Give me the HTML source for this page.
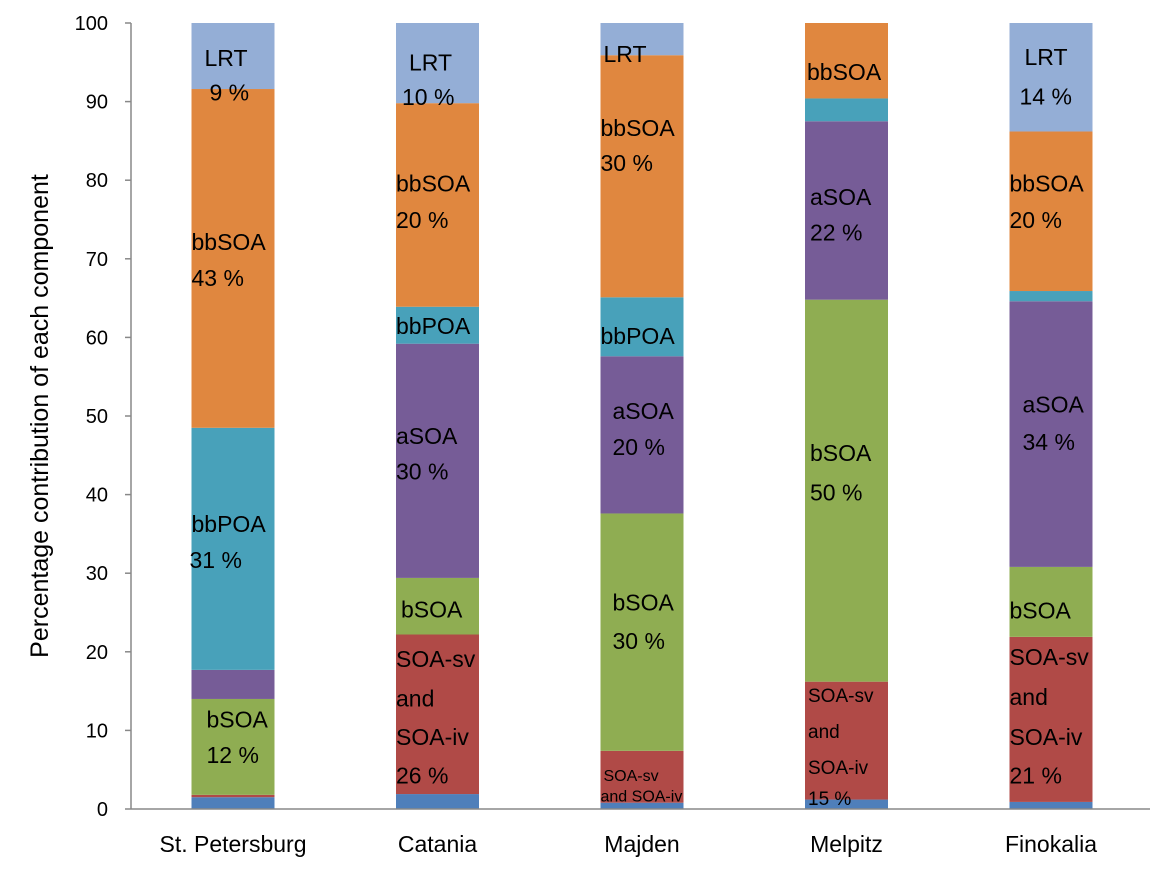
<!DOCTYPE html>
<html><head><meta charset="utf-8"><style>
html,body{margin:0;padding:0;background:#fff;}
svg{display:block;font-family:"Liberation Sans",sans-serif;}
</style></head><body>
<svg id="chart" width="1175" height="872"></svg>
<script>
const categories=["St. Petersburg","Catania","Majden","Melpitz","Finokalia"];
const seriesNames=["blue","SOA-sv and SOA-iv","bSOA","aSOA","bbPOA","bbSOA","LRT"];
const blueVals=[1.5,1.9,0.8,1.2,0.9];
const soaSvVals=[0.3,20.3,6.6,15.0,21.0];
const bSOAVals=[12.2,7.2,30.2,48.6,8.9];
const aSOAVals=[3.7,29.8,20.0,22.7,33.8];
const bbPOAVals=[30.8,4.7,7.5,2.9,1.3];
const bbSOAVals=[43.1,25.9,30.8,9.6,20.3];
const lrtVals=[8.4,10.2,4.1,0,13.8];
const yTicks=[0,10,20,30,40,50,60,70,80,90,100];
const labels=[
[0,95.6,"LRT",13],[0,91.2,"9 %",18],[0,72.2,"bbSOA",0],[0,67.6,"43 %",0],[0,36.3,"bbPOA",0],[0,31.7,"31 %",-2],[0,11.4,"bSOA",15],[0,6.9,"12 %",15],
[1,95,"LRT",13],[1,90.6,"10 %",6],[1,79.6,"bbSOA",0],[1,75,"20 %",0],[1,61.5,"bbPOA",0],[1,47.5,"aSOA",0],[1,43,"30 %",0],[1,25.4,"bSOA",5],[1,19.1,"SOA-sv",0],[1,14.1,"and",0],[1,9.2,"SOA-iv",0],[1,4.3,"26 %",0],
[2,96.1,"LRT",3],[2,86.7,"bbSOA",0],[2,82.2,"30 %",0],[2,60.2,"bbPOA",0],[2,50.7,"aSOA",12],[2,46.1,"20 %",12],[2,26.3,"bSOA",12],[2,21.4,"30 %",12],[2,4.3,"SOA-sv",3,16],[2,1.7,"and SOA-iv",0,16],
[3,93.8,"bbSOA",2],[3,77.9,"aSOA",5],[3,73.4,"22 %",5],[3,45.3,"bSOA",5],[3,40.3,"50 %",5],[3,14.5,"SOA-sv",3,19],[3,9.9,"and",3,19],[3,5.3,"SOA-iv",3,19],[3,1.4,"15 %",3,19],
[4,95.7,"LRT",15],[4,90.7,"14 %",10],[4,79.6,"bbSOA",0],[4,75,"20 %",0],[4,51.5,"aSOA",13],[4,46.7,"34 %",13],[4,25.3,"bSOA",0],[4,19.4,"SOA-sv",0],[4,14.3,"and",0],[4,9.2,"SOA-iv",0],[4,4.3,"21 %",0]
];
const colors=["#4f7fba","#b04a47","#8fad52","#765c97","#48a1ba","#e0873f","#94aed6"];
const NS="http://www.w3.org/2000/svg";
const svg=document.getElementById("chart");
const y0=809,y1=23,xLeft=131;
function yS(v){return y0+(y1-y0)*v/100;}
function xS(i){return 233+i*204.5;}
const barW=83;
function mk(t,a){const e=document.createElementNS(NS,t);for(const k in a)e.setAttribute(k,a[k]);svg.appendChild(e);return e;}
const all=[blueVals,soaSvVals,bSOAVals,aSOAVals,bbPOAVals,bbSOAVals,lrtVals];
categories.forEach((c,i)=>{
 let acc=0;
 all.forEach((arr,s)=>{
  const v=arr[i];if(v<=0)return;
  const r=mk("rect",{x:xS(i)-barW/2,y:yS(acc+v),width:barW,height:yS(acc)-yS(acc+v),fill:colors[s]});
  
  
  acc+=v;
 });
 const t=mk("text",{x:xS(i),y:852,"text-anchor":"middle","font-size":"23",fill:"#000"});
 t.textContent=c;
 
 
});
const ax=mk("line",{x1:xLeft,y1:y1,x2:xLeft,y2:y0,stroke:"#888","stroke-width":1.5});


const bx=mk("line",{x1:xLeft,y1:y0,x2:1150,y2:y0,stroke:"#888","stroke-width":1.5});


yTicks.forEach(v=>{
 const tk=mk("line",{x1:xLeft-6,y1:yS(v),x2:xLeft,y2:yS(v),stroke:"#888","stroke-width":1.5});
 
 
 const t=mk("text",{x:108,y:yS(v)+7,"text-anchor":"end","font-size":"20",fill:"#000"});
 t.textContent=v;
 
 
});
const yt=mk("text",{x:0,y:0,"text-anchor":"middle","font-size":"25",fill:"#000",transform:"translate(48,416) rotate(-90)"});
yt.textContent="Percentage contribution of each component";


labels.forEach(l=>{
 const fs=l[4]||23;
 const t=mk("text",{x:xS(l[0])-barW/2+l[3],y:yS(l[1])+fs*0.36,"font-size":fs,fill:"#000"});
 t.textContent=l[2];
 
 
});
</script>
</body></html>
